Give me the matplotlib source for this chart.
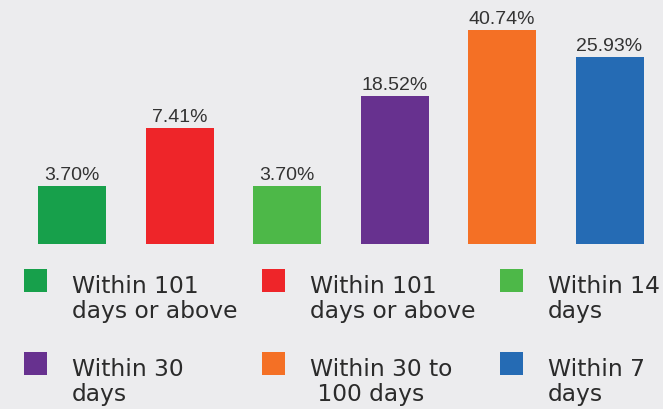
import matplotlib.pyplot as plt
from matplotlib.patches import Rectangle
import numpy as np

# bar heights as drawn in the picture (the drawn bars are not to scale with the labels)
categories = ["Within 101\ndays or above", "Within 101\ndays or above", "Within 14\ndays",
              "Within 30\ndays", "Within 30 to\n 100 days", "Within 7\ndays"]
bar_heights = [11.04, 22.08, 11.04, 28.17, 40.74, 35.6]
value_labels = ["3.70%", "7.41%", "3.70%", "18.52%", "40.74%", "25.93%"]
colors = ["#17a04b", "#ee2529", "#4db848", "#67318f", "#f47025", "#256bb4"]

bg = "#ececee"
W, H = 663, 409

fig = plt.figure(figsize=(W / 100, H / 100), dpi=100, facecolor=bg)
# axes spans full width, baseline at y=244px from top
ax = fig.add_axes([0, (H - 244) / H, 1, 244 / H])
ax.set_facecolor(bg)

x = np.arange(len(bar_heights))
step = 107.5
ax.bar(x, bar_heights, width=68 / step, color=colors)
ax.set_xlim(-72 / step, (W - 72) / step)
ax.set_ylim(0, 244 / 5.253)
ax.axis("off")

for xi, h, lab in zip(x, bar_heights, value_labels):
    ax.annotate(lab, (xi, h), xytext=(0, 4), textcoords="offset points",
                ha="center", va="baseline", fontsize=14,
                family="Liberation Sans", color="#333333")

# legend, 3 columns x 2 rows
col_x = [24, 262, 500]
row_y = [269, 352]
sq = 23
for i, (lab, c) in enumerate(zip(categories, colors)):
    cx = col_x[i % 3]
    ry = row_y[i // 3]
    fig.add_artist(Rectangle((cx / W, 1 - (ry + sq) / H), sq / W, sq / H,
                             transform=fig.transFigure, color=c, lw=0))
    # baseline of the last line
    fig.text((cx + 48) / W, 1 - (ry + 49) / H, lab, fontsize=16.8,
             family="DejaVu Sans", color="#2b2b2b", va="baseline", ha="left",
             linespacing=1.12)

fig.savefig("out.png", dpi=100, facecolor=bg)
